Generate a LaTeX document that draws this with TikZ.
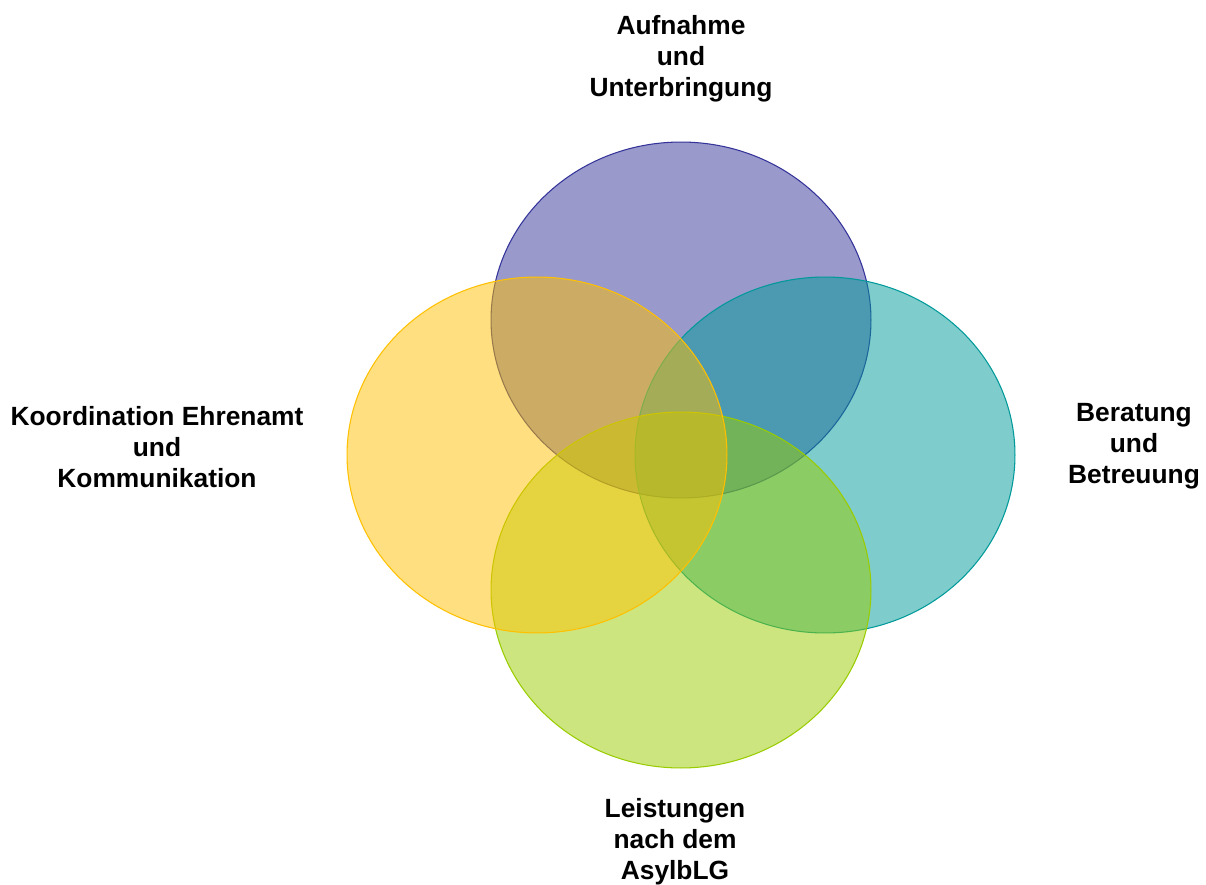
\documentclass[tikz,border=0pt]{standalone}
\usepackage{fontspec}
\setmainfont{Liberation Sans}
\usetikzlibrary{shapes.geometric,positioning}

\definecolor{topblue}{HTML}{333399}
\definecolor{rightteal}{HTML}{009999}
\definecolor{bottomlime}{HTML}{99CC00}
\definecolor{leftyellow}{HTML}{FFC000}

\begin{document}
\begin{tikzpicture}[
  x=0.02cm,y=-0.02cm,
  field/.style={ellipse,draw,line width=0.6pt,fill opacity=0.5,
                minimum width=7.6cm,minimum height=7.12cm,inner sep=0pt},
  lbl/.style={align=center,font=\bfseries\fontsize{15}{17.6}\selectfont},
]
  \useasboundingbox (0,0) rectangle (1206,885);

  % Fields
  \node[field,draw=topblue,fill=topblue]       (top)    at (681,320) {};
  \node[field,draw=rightteal,fill=rightteal]   (right)  at (825,455) {};
  \node[field,draw=bottomlime,fill=bottomlime] (bottom) at (681,590) {};
  \node[field,draw=leftyellow,fill=leftyellow] (left)   at (537,455) {};

  % Labels
  \node[lbl] (topl)    at (681,59)  {Aufnahme\\und\\Unterbringung};
  \node[lbl] (rightl)  at (1134,446) {Beratung\\und\\Betreuung};
  \node[lbl] (bottoml) at (675,842) {Leistungen\\nach dem\\AsylbLG};
  \node[lbl] (leftl)   at (157,447) {Koordination Ehrenamt\\und\\Kommunikation};
\end{tikzpicture}
\end{document}
